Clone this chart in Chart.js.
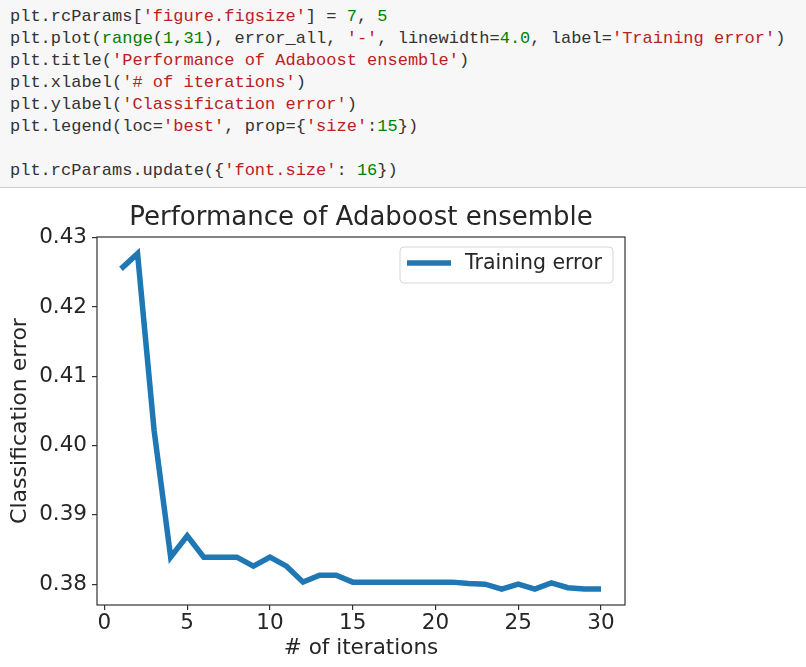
<!DOCTYPE html>
<html>
<head>
<meta charset="utf-8">
<script src="https://cdn.jsdelivr.net/npm/chart.js@4"></script>
<style>
  body { margin: 0; background: #fff; width: 806px; height: 667px; overflow: hidden; }
  #code {
    height: 188px; background: #f7f7f7; border-bottom: 1px solid #cfcfcf;
    box-sizing: border-box; padding: 6px 0 0 10px;
    font-family: "Liberation Mono", monospace; font-size: 17px; line-height: 22px;
    color: #333; white-space: pre;
  }
  .s { color: #ba2121; }
  .n { color: #008000; }
  #wrap { position: absolute; left: 0; top: 189px; width: 806px; height: 478px; }
</style>
</head>
<body>
<div id="code">plt.rcParams[<span class="s">'figure.figsize'</span>] = <span class="n">7</span>, <span class="n">5</span>
plt.plot(<span class="n">range</span>(<span class="n">1</span>,<span class="n">31</span>), error_all, <span class="s">'-'</span>, linewidth=<span class="n">4.0</span>, label=<span class="s">'Training error'</span>)
plt.title(<span class="s">'Performance of Adaboost ensemble'</span>)
plt.xlabel(<span class="s">'# of iterations'</span>)
plt.ylabel(<span class="s">'Classification error'</span>)
plt.legend(loc=<span class="s">'best'</span>, prop={<span class="s">'size'</span>:<span class="n">15</span>})

plt.rcParams.update({<span class="s">'font.size'</span>: <span class="n">16</span>})</div>
<div id="wrap"><canvas id="chart" width="806" height="478"></canvas></div>
<script>
// values
var iterations = [1, 2, 3, 4, 5, 6, 7, 8, 9, 10, 11, 12, 13, 14, 15,
                  16, 17, 18, 19, 20, 21, 22, 23, 24, 25, 26, 27, 28, 29, 30];
var errorAll = [0.4255, 0.4277, 0.4022, 0.3839, 0.3870, 0.3839, 0.3839, 0.3839, 0.3826, 0.3839,
                0.3826, 0.3803, 0.3813, 0.3813, 0.3803, 0.3803, 0.3803, 0.3803, 0.3803, 0.3803,
                0.3803, 0.3801, 0.3800, 0.3793, 0.3800, 0.3793, 0.3802, 0.3795, 0.3793, 0.3793];
var xTicks = [0, 5, 10, 15, 20, 25, 30];
var yTicks = [0.38, 0.39, 0.40, 0.41, 0.42, 0.43];

var ink = "#262626";
var font = "'DejaVu Sans', sans-serif";

// frame, title and legend drawn around the chart area
var framePlugin = {
  id: "frame",
  afterDraw: function(chart) {
    var ctx = chart.ctx, a = chart.chartArea;
    ctx.save();
    ctx.strokeStyle = "#333";
    ctx.lineWidth = 1.2;
    ctx.strokeRect(a.left, a.top, a.right - a.left, a.bottom - a.top);

    ctx.fillStyle = ink;
    ctx.font = "26px " + font;
    ctx.textAlign = "center";
    ctx.textBaseline = "middle";
    ctx.fillText("Performance of Adaboost ensemble", (a.left + a.right) / 2, a.top - 19);

    var ds = chart.data.datasets[0];
    var bx = a.right - 225, by = a.top + 10, bw = 213, bh = 36, r = 4;
    ctx.beginPath();
    ctx.moveTo(bx + r, by);
    ctx.arcTo(bx + bw, by, bx + bw, by + bh, r);
    ctx.arcTo(bx + bw, by + bh, bx, by + bh, r);
    ctx.arcTo(bx, by + bh, bx, by, r);
    ctx.arcTo(bx, by, bx + bw, by, r);
    ctx.closePath();
    ctx.fillStyle = "rgba(255,255,255,0.8)";
    ctx.fill();
    ctx.strokeStyle = "#d6d6d6";
    ctx.lineWidth = 1;
    ctx.stroke();

    ctx.strokeStyle = ds.borderColor;
    ctx.lineWidth = ds.borderWidth;
    ctx.beginPath();
    ctx.moveTo(bx + 7, by + 16);
    ctx.lineTo(bx + 51, by + 16);
    ctx.stroke();

    ctx.fillStyle = ink;
    ctx.font = "20.5px " + font;
    ctx.textAlign = "left";
    ctx.fillText(ds.label, bx + 65, by + 17);
    ctx.restore();
  }
};

new Chart(document.getElementById("chart").getContext("2d"), {
  type: "line",
  data: {
    datasets: [{
      label: "Training error",
      data: iterations.map(function(x, i) { return { x: x, y: errorAll[i] }; }),
      borderColor: "#1f77b4",
      borderWidth: 5.5,
      pointRadius: 0,
      tension: 0,
      fill: false
    }]
  },
  options: {
    responsive: false,
    animation: false,
    layout: { padding: { left: 0, top: 48, right: 181, bottom: 0 } },
    plugins: { legend: { display: false }, title: { display: false }, tooltip: { enabled: false } },
    scales: {
      x: {
        type: "linear",
        min: -0.45,
        max: 31.45,
        afterFit: function(s) { s.height = 62; },
        afterBuildTicks: function(s) { s.ticks = xTicks.map(function(v) { return { value: v }; }); },
        grid: { display: true, drawOnChartArea: false, drawTicks: true, tickLength: 5, color: "#333", lineWidth: 1.2 },
        border: { display: false },
        ticks: { color: ink, font: { family: font, size: 21.5 }, padding: 1, maxRotation: 0 },
        title: { display: true, text: "# of iterations", color: ink, font: { family: font, size: 21.5 }, padding: { top: 0, bottom: 6 } }
      },
      y: {
        min: 0.3770,
        max: 0.4301,
        afterFit: function(s) { s.width = 97; },
        afterBuildTicks: function(s) { s.ticks = yTicks.map(function(v) { return { value: v }; }); },
        grid: { display: true, drawOnChartArea: false, drawTicks: true, tickLength: 5, color: "#333", lineWidth: 1.2 },
        border: { display: false },
        ticks: {
          color: ink, font: { family: font, size: 21.5 }, padding: 5,
          callback: function(v) { return v.toFixed(2); }
        },
        title: { display: true, text: "Classification error", color: ink, font: { family: font, size: 22 }, padding: { top: 7, bottom: 0 } }
      }
    }
  },
  plugins: [framePlugin]
});
</script>
</body>
</html>
